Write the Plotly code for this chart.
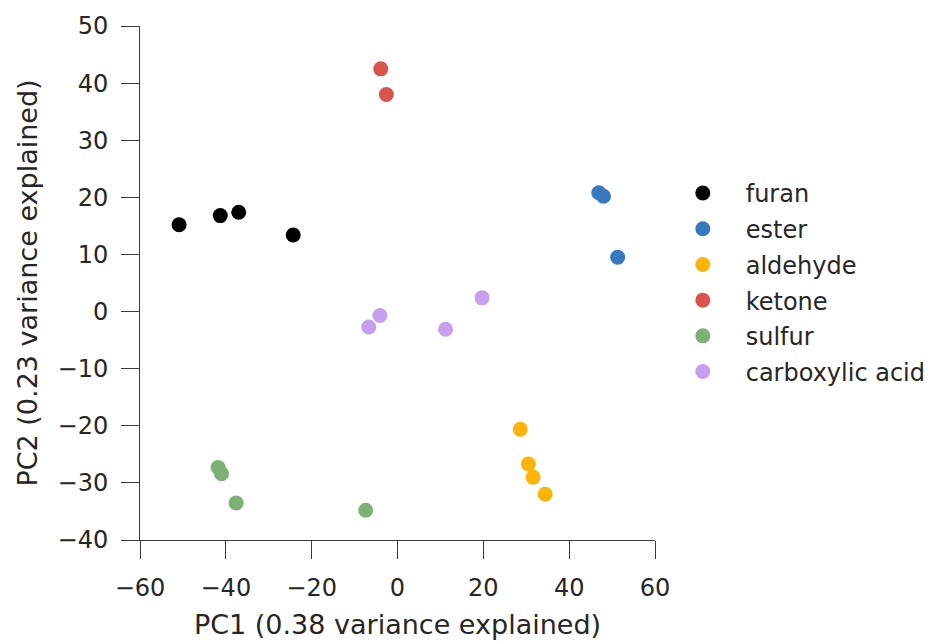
import plotly.graph_objects as go

categories = ["furan", "ester", "aldehyde", "ketone", "sulfur", "carboxylic acid"]
colors = ["#000000", "#3778bf", "#feb308", "#d9544d", "#7bb274", "#c79fef"]

pc1 = {
    "furan": [-50.9, -41.3, -37.0, -24.3],
    "ester": [46.9, 48.0, 51.3],
    "aldehyde": [28.6, 30.5, 31.6, 34.4],
    "ketone": [-3.9, -2.6],
    "sulfur": [-41.8, -41.0, -37.6, -7.4],
    "carboxylic acid": [19.7, -4.1, -6.7, 11.2],
}
pc2 = {
    "furan": [15.2, 16.8, 17.4, 13.4],
    "ester": [20.8, 20.2, 9.5],
    "aldehyde": [-20.6, -26.7, -29.0, -32.0],
    "ketone": [42.5, 38.0],
    "sulfur": [-27.3, -28.4, -33.5, -34.8],
    "carboxylic acid": [2.4, -0.7, -2.7, -3.1],
}

x_ticks = [-60, -40, -20, 0, 20, 40, 60]
y_ticks = [-40, -30, -20, -10, 0, 10, 20, 30, 40, 50]

fig = go.Figure()
for i, cat in enumerate(categories):
    fig.add_trace(go.Scatter(
        x=pc1[cat], y=pc2[cat], mode="markers", name="\u00a0\u00a0\u00a0" + cat,
        legendgroup=cat,
        marker=dict(color=colors[i], size=15, line=dict(width=0)),
    ))

font_color = "#262626"
axis_common = dict(
    showgrid=False, zeroline=False, showline=True, linecolor="#3a3a3a", linewidth=1,
    ticks="outside", ticklen=18, tickwidth=1, tickcolor="#3a3a3a",
    tickfont=dict(size=24, color=font_color, family="DejaVu Sans"),
    title_font=dict(size=27, color=font_color, family="DejaVu Sans"),
    mirror=False,
)
fig.update_xaxes(range=[-60, 60], tickvals=x_ticks, ticklabelstandoff=8,
                 title_text="PC1 (0.38 variance explained)", title_standoff=14, **axis_common)
fig.update_yaxes(range=[-40, 50], tickvals=y_ticks, ticklabelstandoff=8,
                 title_text="PC2 (0.23 variance explained)", title_standoff=12, **axis_common)

fig.update_layout(
    width=932, height=641,
    margin=dict(l=140, r=277, t=26, b=101, autoexpand=False),
    plot_bgcolor="white", paper_bgcolor="white",
    font=dict(family="DejaVu Sans", size=24, color=font_color),
    legend=dict(x=1.054, y=0.718, xanchor="left", yanchor="top",
                font=dict(size=24, color=font_color), tracegroupgap=1.5,
                bgcolor="rgba(0,0,0,0)"),
    showlegend=True,
)

fig.write_html("out.html")
